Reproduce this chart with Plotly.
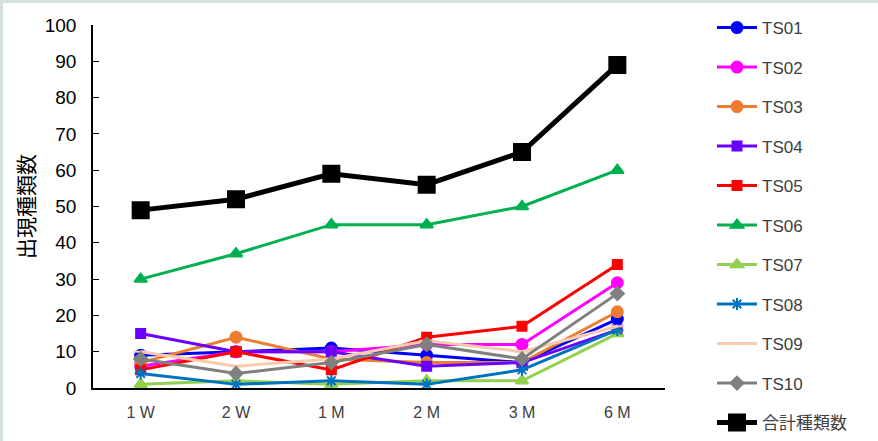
import plotly.graph_objects as go

periods = ["1 W", "2 W", "1 M", "2 M", "3 M", "6 M"]

ts01 = [9, 10, 11, 9, 7, 19]
ts02 = [6, 10, 10, 12, 12, 29]
ts03 = [7, 14, 8, 7, 7, 21]
ts04 = [15, 10, 10, 6, 7, 16]
ts05 = [5, 10, 5, 14, 17, 34]
ts06 = [30, 37, 45, 45, 50, 60]
ts07 = [1, 2, 1, 2, 2, 15]
ts08 = [4, 1, 2, 1, 5, 16]
ts09 = [10, 6, 8, 13, 10, 17]
ts10 = [8, 4, 7, 12, 8, 26]
total = [49, 52, 59, 56, 65, 89]

series = [
    ("TS01", ts01, "#0000FF", "circle", 11, 3),
    ("TS02", ts02, "#FF00FF", "circle", 11, 3),
    ("TS03", ts03, "#ED7D31", "circle", 11, 3),
    ("TS04", ts04, "#6A00FF", "square", 9, 3),
    ("TS05", ts05, "#FF0000", "square", 9, 3),
    ("TS06", ts06, "#00B050", "triangle-up", 11, 3),
    ("TS07", ts07, "#92D050", "triangle-up", 11, 3),
    ("TS08", ts08, "#0070C0", "asterisk-open", 10, 3),
    ("TS09", ts09, "#F8CBAD", "line-ew-open", 10, 3),
    ("TS10", ts10, "#808080", "diamond", 10, 3),
    ("合計種類数", total, "#000000", "square", 16, 5),
]

W, H = 878, 441
ml, mr, mt, mb = 93, 213, 25, 53
pw, ph = W - ml - mr, H - mt - mb

fig = go.Figure()
legends = {}
for i, (name, vals, color, sym, size, lw) in enumerate(series):
    key = "legend" if i == 0 else f"legend{i + 1}"
    fig.add_trace(go.Scatter(
        x=periods, y=vals, name=name, mode="lines+markers",
        legend=key,
        line=dict(color=color, width=lw),
        marker=dict(symbol=sym, size=size, color=color,
                    line=dict(color=color, width=2)),
    ))
    # one legend box per series, stacked down the right-hand side
    yc = 28 + 39.5 * i
    legends[key] = dict(
        x=(716 - ml - 4) / pw, xanchor="left",
        y=1 - (yc - mt) / ph, yanchor="middle",
        font=dict(family="Liberation Sans, Noto Sans CJK JP, sans-serif",
                  size=17, color="#404040"),
        itemwidth=40,
        bgcolor="rgba(0,0,0,0)",
    )

fig.update_layout(
    width=W, height=H,
    margin=dict(l=ml, r=mr, t=mt, b=mb, autoexpand=False),
    paper_bgcolor="white",
    plot_bgcolor="white",
    font=dict(family="Liberation Sans, Arial, sans-serif", color="#000000"),
    showlegend=True,
    xaxis=dict(
        type="category",
        range=[-0.5, 5.5],
        showline=True, linecolor="#000000", linewidth=2,
        ticks="", showgrid=False, zeroline=False,
        tickfont=dict(size=16, color="#404040"),
        ticklabelstandoff=9,
    ),
    yaxis=dict(
        range=[0, 100], dtick=10,
        showline=True, linecolor="#000000", linewidth=1.5,
        ticks="inside", ticklen=6, tickcolor="#000000", tickwidth=1,
        showgrid=False, zeroline=False,
        tickfont=dict(size=19, color="#000000"),
        ticklabelstandoff=11,
        title=dict(text="出現種類数",
                   font=dict(family="Noto Sans CJK JP", size=21, color="#000000"),
                   standoff=4),
    ),
    shapes=[
        dict(type="line", xref="paper", yref="paper",
             x0=-ml / pw, x1=1 + mr / pw,
             y0=1 + (mt - 1.5) / ph, y1=1 + (mt - 1.5) / ph,
             line=dict(color="#D5DFDF", width=3)),
        dict(type="line", xref="paper", yref="paper",
             x0=-(ml - 1.5) / pw, x1=-(ml - 1.5) / pw,
             y0=-mb / ph, y1=1 + mt / ph,
             line=dict(color="#D5DFDF", width=3)),
    ],
)
fig.update_layout(**legends)

fig.write_html("out.html")
